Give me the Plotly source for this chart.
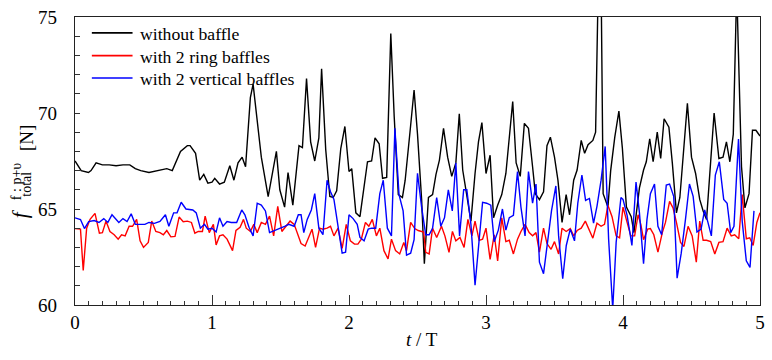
import plotly.graph_objects as go

# ---- data ----
black_t = [0.0, 0.045, 0.098, 0.117, 0.154, 0.2, 0.25, 0.3, 0.35, 0.4, 0.44, 0.48, 0.54, 0.6, 0.64, 0.67, 0.71,
           0.77, 0.82, 0.84, 0.88, 0.91, 0.94, 0.97, 1.0, 1.02, 1.055, 1.09, 1.13, 1.16, 1.19, 1.22, 1.245,
           1.28, 1.30, 1.325, 1.36, 1.41, 1.47, 1.495, 1.53, 1.555, 1.59, 1.635, 1.66, 1.69, 1.72, 1.75,
           1.78, 1.80, 1.83, 1.86, 1.885, 1.91, 1.94, 1.97, 2.0, 2.02, 2.05, 2.08, 2.11, 2.135, 2.165,
           2.19, 2.22, 2.245, 2.275, 2.305, 2.33, 2.36, 2.39, 2.41, 2.445, 2.475, 2.50, 2.53, 2.55, 2.58,
           2.61, 2.635, 2.66, 2.69, 2.72, 2.75, 2.78, 2.805, 2.83, 2.86, 2.89, 2.92, 2.945, 2.97, 3.0,
           3.03, 3.055, 3.085, 3.115, 3.145, 3.17, 3.195, 3.22, 3.25, 3.28, 3.31, 3.34, 3.36, 3.39, 3.42,
           3.445, 3.47, 3.50, 3.525, 3.555, 3.585, 3.61, 3.64, 3.665, 3.695, 3.72, 3.745, 3.78, 3.80,
           3.82, 3.84, 3.855, 3.89, 3.91, 3.94, 3.97, 3.995, 4.025, 4.06, 4.08, 4.12, 4.15, 4.17, 4.195,
           4.22, 4.25, 4.275, 4.30, 4.335, 4.36, 4.39, 4.415, 4.445, 4.47, 4.50, 4.53, 4.56, 4.585, 4.61,
           4.64, 4.665, 4.70, 4.73, 4.755, 4.78, 4.805, 4.83, 4.865, 4.89, 4.92, 4.945, 4.97, 5.0]
black_f = [67.5, 67.0, 66.9, 67.0, 67.4, 67.3, 67.3, 67.25, 67.3, 67.3, 67.1, 67.0, 66.9, 67.0, 67.05, 67.1, 67.0,
           68.0, 68.3, 68.3, 67.9, 66.5, 66.8, 66.35, 66.4, 66.6, 66.3, 66.4, 67.25, 66.5, 67.4, 67.7, 67.2,
           70.8, 71.5, 69.8, 67.7, 65.65, 68.0, 66.0, 65.1, 66.9, 65.2, 68.3, 68.2, 71.8, 68.5, 67.5,
           68.7, 72.3, 68.1, 65.65, 65.6, 65.95, 68.15, 69.3, 66.95, 67.1, 64.8, 64.6, 66.26, 67.46, 67.5,
           68.7, 68.4, 66.6, 66.65, 74.14, 69.8, 65.75, 65.6, 66.5, 69.0, 71.2, 68.9, 65.5, 62.15, 65.6,
           65.75, 66.8, 67.55, 69.2, 67.7, 66.7, 67.4, 69.96, 67.03, 65.65, 64.37, 66.85, 68.5, 69.5, 66.85,
           67.8, 64.54, 65.2, 65.75, 66.85, 68.9, 70.6, 67.4, 66.7, 69.46, 69.2, 67.2, 65.8, 65.49, 65.9,
           68.3, 68.74, 67.7, 66.5, 64.3, 65.75, 64.7, 66.5, 67.03, 68.57, 67.9, 68.35, 68.57, 69.0,
           77.0, 77.0, 65.8, 65.1, 67.0, 68.74, 70.1, 68.2, 65.1, 64.6, 63.77, 66.1, 67.03, 67.46, 68.66,
           67.46, 69.0, 67.63, 69.7, 69.26, 67.4, 64.8, 65.6, 68.23, 70.5, 67.7, 66.85, 65.5, 64.9, 64.46,
           67.4, 70.0, 67.63, 67.7, 68.5, 67.46, 68.9, 76.5, 67.2, 65.06, 65.8, 69.1, 69.1, 68.8]

red_t = [0.0, 0.04, 0.06, 0.085, 0.11, 0.146, 0.178, 0.2, 0.226, 0.255, 0.286, 0.315, 0.34, 0.366, 0.395, 0.42,
         0.45, 0.475, 0.50, 0.535, 0.56, 0.59, 0.62, 0.645, 0.67, 0.70, 0.73, 0.76, 0.79, 0.82, 0.85, 0.875,
         0.9, 0.93, 0.95, 0.98, 1.01, 1.03, 1.055, 1.08, 1.11, 1.15, 1.175, 1.205, 1.23, 1.25, 1.28, 1.305,
         1.33, 1.36, 1.39, 1.42, 1.45, 1.48, 1.51, 1.54, 1.57, 1.6, 1.63, 1.65, 1.68, 1.705, 1.73, 1.756,
         1.785, 1.81, 1.84, 1.865, 1.89, 1.92, 1.95, 1.98, 2.01, 2.04, 2.065, 2.09, 2.12, 2.145, 2.17, 2.2,
         2.225, 2.255, 2.285, 2.31, 2.34, 2.37, 2.40, 2.42, 2.45, 2.48, 2.505, 2.53, 2.545, 2.56, 2.585,
         2.61, 2.64, 2.675, 2.70, 2.73, 2.755, 2.78, 2.81, 2.84, 2.868, 2.897, 2.92, 2.95, 2.975, 3.0,
         3.03, 3.06, 3.085, 3.115, 3.145, 3.17, 3.2, 3.23, 3.255, 3.285, 3.315, 3.34, 3.365, 3.39, 3.42,
         3.445, 3.475, 3.50, 3.53, 3.555, 3.585, 3.615, 3.64, 3.665, 3.695, 3.725, 3.75, 3.78, 3.81, 3.84,
         3.865, 3.89, 3.92, 3.95, 3.975, 4.0, 4.03, 4.057, 4.085, 4.11, 4.13, 4.15, 4.18, 4.2, 4.225,
         4.255, 4.287, 4.31, 4.34, 4.365, 4.39, 4.42, 4.445, 4.475, 4.505, 4.535, 4.56, 4.585, 4.61, 4.64,
         4.67, 4.70, 4.73, 4.76, 4.79, 4.815, 4.845, 4.87, 4.90, 4.925, 4.95, 4.977, 5.0]
red_f = [63.98, 63.95, 61.8, 64.0, 64.46, 64.77, 63.74, 63.77, 64.37, 63.83, 63.66, 63.43, 63.66, 63.6, 64.1, 64.1,
         64.46, 63.34, 63.0, 63.26, 64.37, 63.83, 63.77, 63.66, 63.88, 63.55, 63.57, 64.58, 64.34, 64.37, 64.3, 63.74,
         63.83, 63.83, 64.63, 63.77, 64.2, 63.13, 63.6, 63.66, 63.43, 62.83, 63.88, 64.05, 64.46, 64.0, 63.83, 64.2,
         63.77, 64.3, 64.2, 64.63, 63.6, 65.14, 63.83, 64.1, 64.37, 64.2, 63.66, 63.2, 63.07, 63.5, 63.95, 63.0,
         64.0, 63.95, 64.0, 64.1, 63.6, 64.0, 62.95, 64.2, 63.34, 63.17, 63.17, 63.43, 64.3, 64.1, 64.46, 63.6,
         64.0, 62.83, 62.4, 63.43, 62.83, 62.66, 63.26, 62.83, 64.3, 63.98, 63.88, 63.83, 63.8, 62.74, 62.66,
         64.0, 63.52, 64.1, 63.6, 62.74, 63.83, 63.34, 63.52, 63.0, 64.46, 63.6, 64.37, 63.37, 63.43, 64.0,
         62.37, 63.66, 62.3, 64.54, 63.3, 63.37, 62.66, 63.43, 63.83, 64.2, 63.77, 63.6, 63.77, 62.75, 64.0,
         63.2, 62.9, 63.3, 62.66, 64.0, 63.83, 63.98, 63.6, 63.88, 64.0, 64.37, 63.95, 63.48, 64.26, 64.1,
         64.2, 65.2, 64.6, 63.6, 63.5, 65.1, 64.3, 63.6, 63.6, 64.7, 64.2, 63.4, 63.95, 63.98, 63.66,
         62.75, 63.77, 64.3, 65.4, 65.06, 64.3, 63.26, 63.05, 64.1, 63.6, 62.23, 64.37, 63.37, 63.37, 63.3,
         62.66, 63.26, 63.3, 64.0, 63.6, 63.66, 63.45, 65.75, 63.45, 63.5, 63.1, 64.3, 64.8]

blue_t = [0.0, 0.04, 0.069, 0.1, 0.14, 0.175, 0.21, 0.24, 0.27, 0.295, 0.32, 0.35, 0.38, 0.41, 0.44, 0.48, 0.51,
          0.54, 0.58, 0.62, 0.66, 0.685, 0.72, 0.745, 0.775, 0.81, 0.84, 0.86, 0.885, 0.915, 0.945, 0.97, 1.0,
          1.03, 1.055, 1.08, 1.11, 1.14, 1.18, 1.217, 1.24, 1.27, 1.30, 1.33, 1.36, 1.39, 1.42, 1.45, 1.475,
          1.5, 1.53, 1.56, 1.6, 1.63, 1.65, 1.67, 1.695, 1.725, 1.75, 1.78, 1.81, 1.84, 1.865, 1.89, 1.92,
          1.95, 1.975, 2.0, 2.03, 2.06, 2.08, 2.11, 2.14, 2.165, 2.195, 2.225, 2.25, 2.28, 2.31, 2.335, 2.365,
          2.395, 2.42, 2.45, 2.475, 2.5, 2.53, 2.56, 2.585, 2.61, 2.64, 2.67, 2.697, 2.725, 2.754, 2.78, 2.807,
          2.837, 2.86, 2.89, 2.92, 2.95, 2.975, 3.005, 3.035, 3.06, 3.09, 3.12, 3.145, 3.17, 3.2, 3.23, 3.255,
          3.285, 3.31, 3.34, 3.365, 3.39, 3.42, 3.455, 3.478, 3.51, 3.53, 3.56, 3.586, 3.615, 3.646, 3.67,
          3.70, 3.727, 3.755, 3.785, 3.81, 3.84, 3.87, 3.895, 3.925, 3.95, 3.985, 4.0, 4.03, 4.065, 4.095,
          4.12, 4.15, 4.175, 4.2, 4.23, 4.255, 4.282, 4.316, 4.34, 4.37, 4.395, 4.425, 4.456, 4.485, 4.512,
          4.54, 4.57, 4.596, 4.62, 4.645, 4.674, 4.703, 4.735, 4.76, 4.786, 4.81, 4.843, 4.87, 4.9, 4.927, 4.956]
blue_f = [64.54, 64.45, 63.98, 64.34, 64.4, 64.3, 64.5, 64.3, 64.7, 64.5, 64.3, 64.5, 64.35, 64.75, 64.2, 64.2, 64.2,
          64.3, 64.25, 64.35, 64.7, 64.1, 64.8, 64.8, 65.35, 65.0, 64.95, 64.95, 64.8, 64.0, 64.2, 63.95, 64.0,
          63.8, 64.54, 64.1, 64.35, 64.3, 64.3, 64.95, 64.7, 64.05, 63.6, 65.3, 65.2, 64.9, 63.77, 63.85, 63.95,
          64.0, 64.1, 64.2, 64.1, 64.7, 64.7, 63.77, 64.46, 64.95, 65.8, 64.0, 63.66, 66.5, 65.9, 65.5, 64.0,
          62.7, 62.75, 64.7, 64.5, 64.2, 63.52, 63.34, 63.95, 64.0, 64.0, 65.8, 66.5, 64.0, 63.6, 69.2, 65.75,
          64.9, 62.6, 62.7, 63.4, 66.86, 65.1, 63.66, 63.66, 64.0, 65.6, 64.1, 64.54, 66.0, 64.9, 67.4, 63.6,
          66.0, 66.0, 64.2, 61.03, 63.43, 65.35, 65.3, 65.2, 63.3, 63.9, 65.0, 63.9, 64.55, 64.67, 66.95, 65.1,
          63.6, 66.95, 65.3, 66.3, 62.23, 61.63, 63.6, 64.9, 66.2, 63.6, 61.37, 63.1, 63.95, 63.34, 65.3,
          66.77, 65.45, 65.55, 64.26, 65.14, 66.5, 68.26, 63.43, 59.8, 63.26, 65.6, 65.5, 64.67, 63.1, 66.4,
          64.8, 62.15, 64.46, 65.8, 66.3, 64.1, 63.66, 66.25, 66.3, 65.66, 61.4, 62.7, 64.46, 66.3, 65.66,
          63.8, 63.95, 64.95, 64.3, 63.6, 66.77, 67.46, 65.5, 65.3, 63.77, 64.1, 68.64, 64.37, 62.3, 61.96, 64.9]

series_names = ["without baffle", "with 2 ring baffles", "with 2 vertical baffles"]
series_colors = ["#000000", "#ff0000", "#0000ff"]
x_ticks = [0, 1, 2, 3, 4, 5]
y_ticks = [60, 65, 70, 75]

FONT = "Liberation Serif"

fig = go.Figure()
for name, t, f, col in zip(series_names, [black_t, red_t, blue_t], [black_f, red_f, blue_f], series_colors):
    fig.add_trace(go.Scatter(x=t, y=f, mode="lines", name=name,
                             line=dict(color=col, width=1.4), showlegend=False))

fig.update_layout(
    width=772, height=360,
    margin=dict(l=75, r=7, t=13, b=55),
    plot_bgcolor="white", paper_bgcolor="white",
    font=dict(family=FONT, size=19, color="black"),
    showlegend=False,
)
fig.update_xaxes(range=[0, 5], tickvals=x_ticks, ticks="inside", ticklen=10, tickwidth=1,
                 tickcolor="#333", showline=True, linecolor="#222", linewidth=1.2, mirror=True,
                 showgrid=False, zeroline=False,
                 minor=dict(dtick=0.1, ticks="inside", ticklen=4, tickcolor="#333"))
fig.update_yaxes(range=[60, 75], tickvals=y_ticks, ticks="inside", ticklen=5, tickwidth=1,
                 tickcolor="#333", showline=True, linecolor="#222", linewidth=1.2, mirror=True,
                 showgrid=False, zeroline=False, ticklabelstandoff=13,
                 minor=dict(dtick=1, ticks="inside", ticklen=5, tickcolor="#333"))

# legend drawn inside the plot, top-left
leg_y = [0.945, 0.866, 0.788]
for name, col, ly in zip(series_names, series_colors, leg_y):
    fig.add_shape(type="line", xref="paper", yref="paper", x0=0.0246, x1=0.084, y0=ly, y1=ly,
                  line=dict(color=col, width=1.6))
    fig.add_annotation(text=name, xref="paper", yref="paper", x=0.0915, y=ly - 0.004,
                       showarrow=False, xanchor="left", yanchor="middle",
                       font=dict(family=FONT, size=17.7, color="black"))

# axis titles
fig.add_annotation(text="<i>t</i> / T", xref="paper", yref="paper", x=0.507, y=-0.121,
                   showarrow=False, font=dict(family=FONT, size=19), xanchor="center", yanchor="middle")
fig.add_annotation(text="[N]", xref="paper", yref="paper", x=-0.0717, y=0.579, textangle=-90,
                   showarrow=False, font=dict(family=FONT, size=19), xanchor="center", yanchor="middle")
fig.add_annotation(text="<i>f</i>", xref="paper", yref="paper", x=-0.079, y=0.318, textangle=-90,
                   showarrow=False, font=dict(family=FONT, size=21), xanchor="center", yanchor="middle")
fig.add_annotation(text="total", xref="paper", yref="paper", x=-0.070, y=0.418, textangle=-90,
                   showarrow=False, font=dict(family=FONT, size=14), xanchor="center", yanchor="middle")
fig.add_annotation(text="f : p+υ", xref="paper", yref="paper", x=-0.0855, y=0.428, textangle=-90,
                   showarrow=False, font=dict(family=FONT, size=14), xanchor="center", yanchor="middle")

fig.write_html("out.html")
